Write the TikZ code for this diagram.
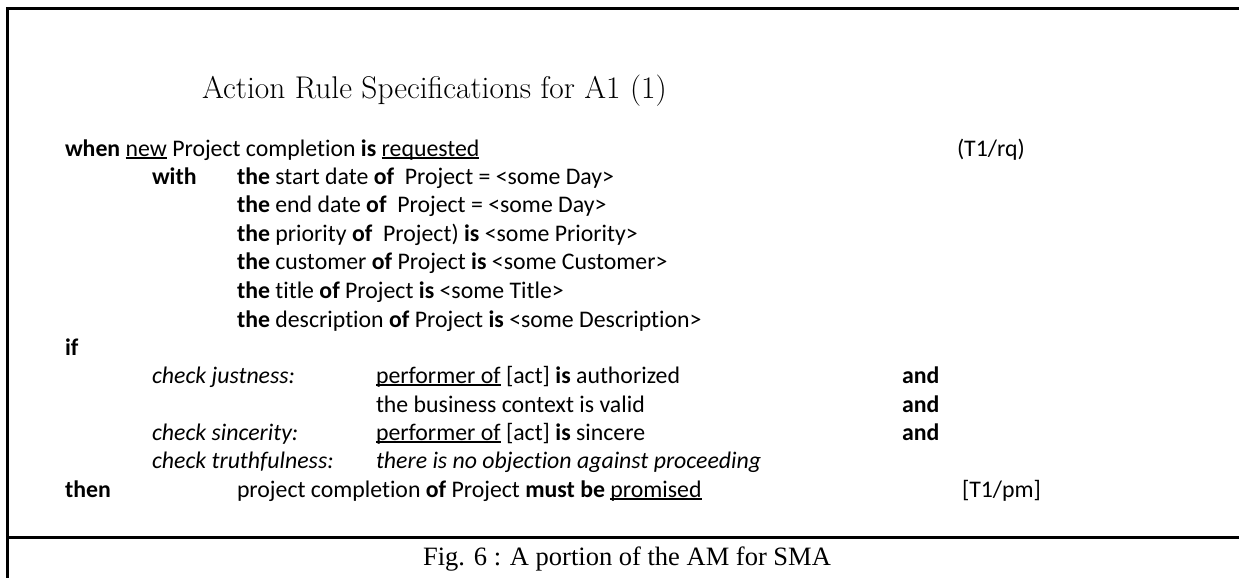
\documentclass[tikz,border=0pt]{standalone}
\usepackage{fontspec}
\newfontfamily\bodyfont[Ligatures=NoCommon]{Carlito}
\newfontfamily\capfont{Liberation Serif}
% underline at a fixed offset below the baseline
\newcommand\myul[1]{\setbox0\hbox{#1}\rlap{\rule[-2.6pt]{\wd0}{1.3pt}}\box0\relax}
\tikzset{
  frame/.style={line width=3pt, line cap=rect},
  txt/.style={anchor=base west, inner sep=0pt, outer sep=0pt,
    font=\bodyfont\fontsize{23.8pt}{28pt}\selectfont},
  ttl/.style={anchor=base west, inner sep=0pt,
    font=\rmfamily\fontsize{31.4pt}{37pt}\selectfont},
  figcaption/.style={anchor=base, inner sep=0pt,
    font=\capfont\fontsize{26.5pt}{31pt}\selectfont},
}
\begin{document}
\begin{tikzpicture}[x=1pt,y=-1pt]
\useasboundingbox (0,0) rectangle (1239,578);
% frame
\coordinate (tl) at (7,9);
\coordinate (tr) at (1239,9);
\coordinate (bl) at (7,578);
\coordinate (ml) at (7,537);
\coordinate (mr) at (1239,537);
\draw[frame] (tr) -- (tl) -- (bl);
\draw[frame] (ml) -- (mr);

% heading
\node[ttl] (title) at (202,99) {Action Rule Specifications for A1 (1)};

% event part
\node[txt] (when) at (65,156) {\textbf{when} \myul{new} Project completion \textbf{is} \myul{requested}};
\node[txt] (rq) at (957,156) {(T1/rq)};
\node[txt] (with) at (152,184) {\bfseries with};
\node[txt] (w1) at (237,184) {\textbf{the} start date \textbf{of}\ \ Project = <some Day>};
\node[txt] (w2) at (237,212) {\textbf{the} end date \textbf{of}\ \ Project = <some Day>};
\node[txt] (w3) at (237,241) {\textbf{the} priority \textbf{of}\ \ Project) \textbf{is} <some Priority>};
\node[txt] (w4) at (237,269) {\textbf{the} customer \textbf{of} Project \textbf{is} <some Customer>};
\node[txt] (w5) at (237,298) {\textbf{the} title \textbf{of} Project \textbf{is} <some Title>};
\node[txt] (w6) at (237,327) {\textbf{the} description \textbf{of} Project \textbf{is} <some Description>};

% conditions
\node[txt] (if) at (65,355) {\bfseries if};
\node[txt] (cj) at (152,383) {\itshape check justness:};
\node[txt] (c1) at (376,383) {\myul{performer of} [act] \textbf{is} authorized};
\node[txt] (a1) at (902,383) {\bfseries and};
\node[txt] (c2) at (376,412) {the business context is valid};
\node[txt] (a2) at (902,412) {\bfseries and};
\node[txt] (cs) at (152,440) {\itshape check sincerity:};
\node[txt] (c3) at (376,440) {\myul{performer of} [act] \textbf{is} sincere};
\node[txt] (a3) at (902,440) {\bfseries and};
\node[txt] (ct) at (152,468) {\itshape check truthfulness:};
\node[txt] (c4) at (376,468) {\itshape there is no objection against proceeding};

% response
\node[txt] (then) at (65,497) {\bfseries then};
\node[txt] (resp) at (237,497) {project completion \textbf{of} Project \textbf{must be} \myul{promised}};
\node[txt] (pm) at (962,497) {[T1/pm]};

% caption
\node[figcaption] (caption) at (627,565) {Fig. 6 : A portion of the AM for SMA};
\end{tikzpicture}
\end{document}
